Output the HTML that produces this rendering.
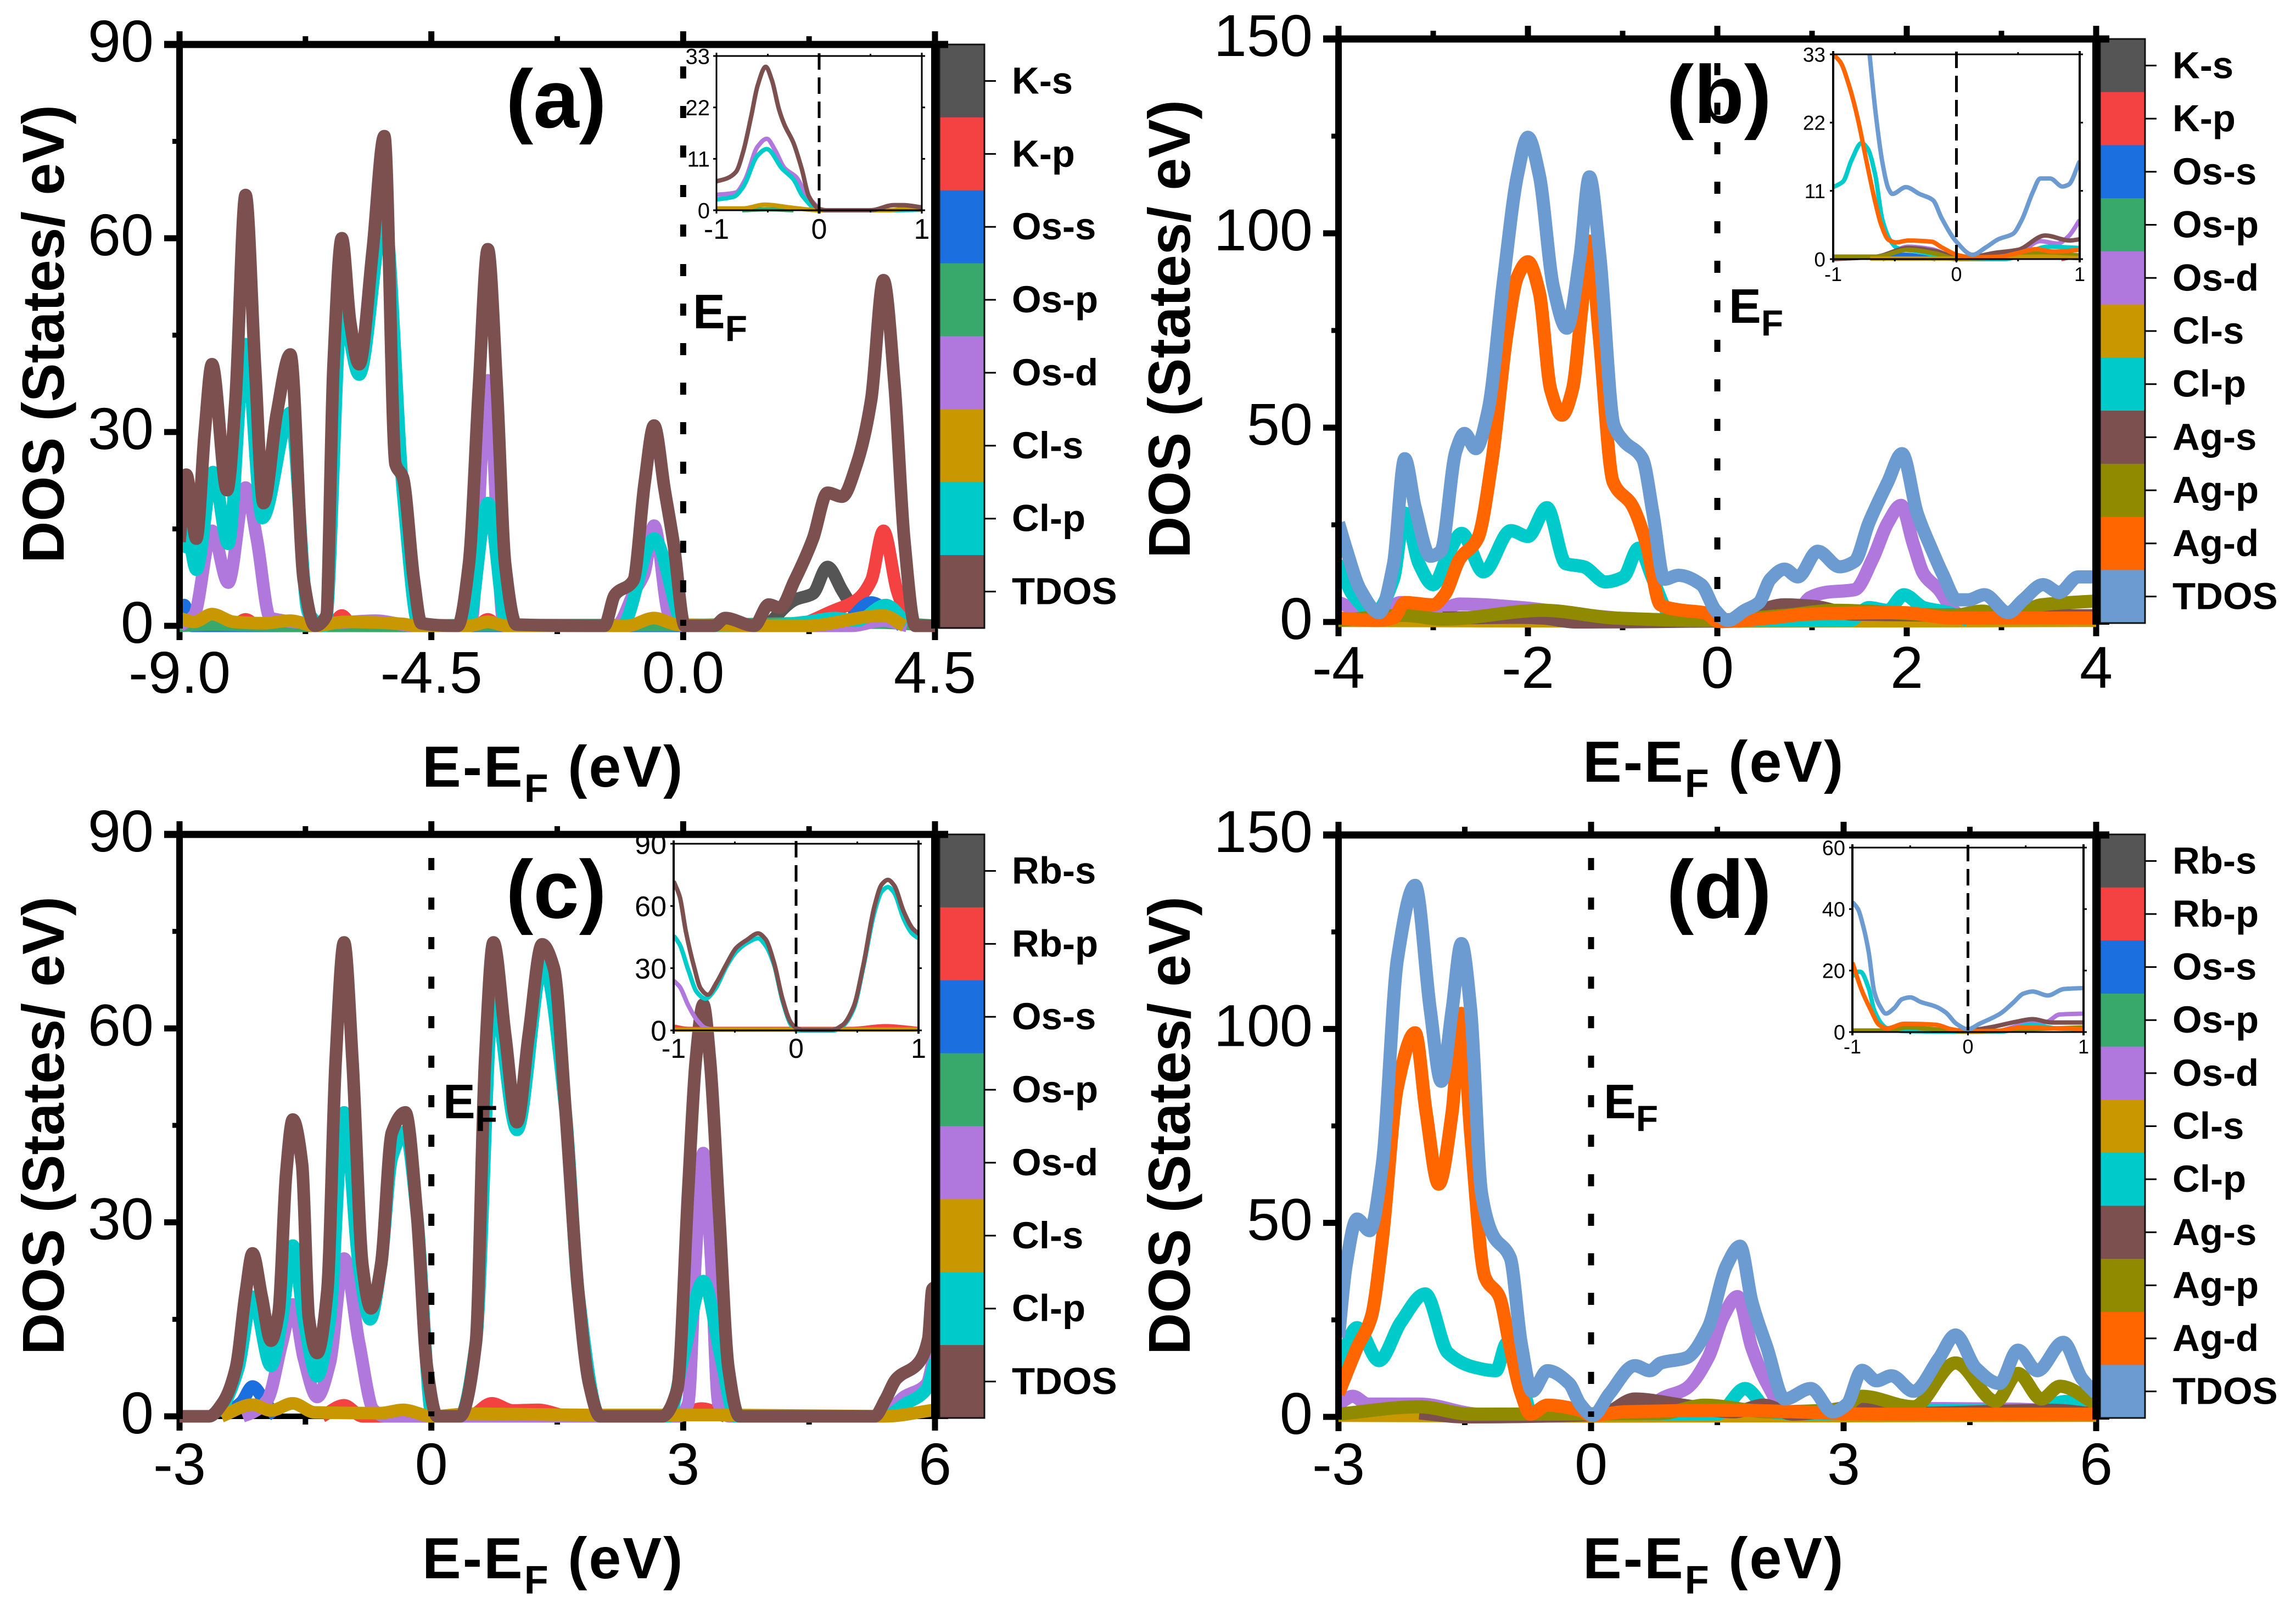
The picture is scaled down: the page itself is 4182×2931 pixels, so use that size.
<!DOCTYPE html>
<html lang="en">
<head>
<meta charset="utf-8">
<title>Density of states panels</title>
<style>
html,body{margin:0;padding:0;background:#fff;}
svg{display:block;}
text{font-family:"Liberation Sans",Arial,sans-serif;fill:#000;}
.ttl{font-weight:bold;}
</style>
</head>
<body>
<svg id="figure" xmlns="http://www.w3.org/2000/svg" width="4182" height="2931" viewBox="0 0 4182 2931">
<rect x="0" y="0" width="4182" height="2931" fill="#fff"/>
<defs id="clips"></defs>
<g id="plots"></g>

<text class="ttl" x="1013" y="232" font-size="150" text-anchor="middle">(a)</text>
<text class="ttl" x="3131" y="224" font-size="150" text-anchor="middle">(b)</text>
<text class="ttl" x="1013" y="1672" font-size="150" text-anchor="middle">(c)</text>
<text class="ttl" x="3131" y="1672" font-size="150" text-anchor="middle">(d)</text>

<text class="ttl" x="1262" y="598" font-size="88">E<tspan dy="23" font-size="66">F</tspan></text>
<text class="ttl" x="3149" y="588" font-size="88">E<tspan dy="23" font-size="66">F</tspan></text>
<text class="ttl" x="807" y="2037" font-size="88">E<tspan dy="23" font-size="66">F</tspan></text>
<text class="ttl" x="2921" y="2037" font-size="88">E<tspan dy="23" font-size="66">F</tspan></text>

<text class="ttl" transform="translate(116,1026) rotate(-90)" font-size="108" textLength="835" lengthAdjust="spacingAndGlyphs">DOS (States/ eV)</text>
<text class="ttl" transform="translate(2167,1017) rotate(-90)" font-size="108" textLength="835" lengthAdjust="spacingAndGlyphs">DOS (States/ eV)</text>
<text class="ttl" transform="translate(116,2468) rotate(-90)" font-size="108" textLength="835" lengthAdjust="spacingAndGlyphs">DOS (States/ eV)</text>
<text class="ttl" transform="translate(2167,2468) rotate(-90)" font-size="108" textLength="835" lengthAdjust="spacingAndGlyphs">DOS (States/ eV)</text>

<text class="ttl" x="769" y="1433" font-size="106" letter-spacing="3">E-E<tspan dy="28" font-size="72">F</tspan><tspan dy="-28"> (eV)</tspan></text>
<text class="ttl" x="2883" y="1424" font-size="106" letter-spacing="3">E-E<tspan dy="28" font-size="72">F</tspan><tspan dy="-28"> (eV)</tspan></text>
<text class="ttl" x="769" y="2875" font-size="106" letter-spacing="3">E-E<tspan dy="28" font-size="72">F</tspan><tspan dy="-28"> (eV)</tspan></text>
<text class="ttl" x="2883" y="2875" font-size="106" letter-spacing="3">E-E<tspan dy="28" font-size="72">F</tspan><tspan dy="-28"> (eV)</tspan></text>
</svg>

<script>
/* ---------- Tick values and labels ---------- */
const aXTicks=[-9,-4.5,0,4.5];
const aXLabels=["-9.0","-4.5","0.0","4.5"];
const aXMinor=[-6.75,-2.25,2.25];
const bXTicks=[-4,-2,0,2,4];
const bXLabels=["-4","-2","0","2","4"];
const bXMinor=[-3,-1,1,3];
const cdXTicks=[-3,0,3,6];
const cdXLabels=["-3","0","3","6"];
const cdXMinor=[-1.5,1.5,4.5];
const acYTicks=[0,30,60,90];
const acYLabels=["0","30","60","90"];
const acYMinor=[15,45,75];
const bdYTicks=[0,50,100,150];
const bdYLabels=["0","50","100","150"];
const bdYMinor=[25,75,125];
const insetXTicks=[-1,0,1];
const insetXLabels=["-1","0","1"];
const insetXMinor=[-0.5,0.5];
const insetABYTicks=[0,11,22,33];
const insetABYLabels=["0","11","22","33"];
const insetCYTicks=[0,30,60,90];
const insetCYLabels=["0","30","60","90"];
const insetDYTicks=[0,20,40,60];
const insetDYLabels=["0","20","40","60"];

/* ---------- Legend categories ---------- */
const legendA=["K-s","K-p","Os-s","Os-p","Os-d","Cl-s","Cl-p","TDOS"];
const legendB=["K-s","K-p","Os-s","Os-p","Os-d","Cl-s","Cl-p","Ag-s","Ag-p","Ag-d","TDOS"];
const legendC=["Rb-s","Rb-p","Os-s","Os-p","Os-d","Cl-s","Cl-p","TDOS"];
const legendD=["Rb-s","Rb-p","Os-s","Os-p","Os-d","Cl-s","Cl-p","Ag-s","Ag-p","Ag-d","TDOS"];
const legendColorsAC=["#555555","#f44242","#1b6fde","#38a96b","#b077dd","#c99700","#00cbcb","#7d5050"];
const legendColorsBD=["#555555","#f44242","#1b6fde","#38a96b","#b077dd","#c99700","#00cbcb","#7d5050","#8f8a00","#ff6600","#6b9bd1"];

/* ---------- Panel (a) ---------- */
const a_ks_e=[1.5,1.99,2.32,2.58,2.84,3.14];
const a_ks_dos=[0,4,5,9.1,5.5,1.2];
const a_kp_e=[-8,-7.82,-7.6,-6.3,-6.1,-5.9,-3.7,-3.49,-3.3,1.9,2.7,3.1,3.36,3.58,3.82,4.06];
const a_kp_dos=[0,1,0,0,1.6,0,0,1,0,0,2.4,4,7,14.7,5.5,0];
const a_oss_e=[-9,-8.92,-8.78,-8.6,2.8,3.36,3.9];
const a_oss_dos=[2.5,3.2,0,0,0,3.6,0];
const a_osp_e=[-9,-8.4,-7.8,-6,-3.5,-0.5,3.5,4.5];
const a_osp_dos=[0,0.2,0.1,0,0.1,0.1,0.5,0];
const a_osd_e=[-9,-8.74,-8.42,-8.13,-7.82,-7.62,-7.38,-6.4,-5.5,-4.8,-3.8,-3.49,-3.2,-1.2,-0.86,-0.7,-0.52,-0.25,0,3,3.58,4];
const a_osd_dos=[0,1.6,14.7,6.7,21.4,13.5,1.2,0.4,0.8,0,0,38,0,0,5.5,8,15.5,1.6,0,0,0.8,0];
const a_clp_e=[-9,-8.88,-8.7,-8.4,-8.13,-7.82,-7.52,-7.02,-6.7,-6.4,-6.1,-5.79,-5.34,-5.0,-4.72,-3.85,-3.49,-3.15,-1.1,-0.52,0.03,1.4,2.2,2.72,3.1,3.62,4.0];
const a_clp_dos=[11.5,15,8.7,23.8,12.7,43.6,16.7,33,2,0,49,38.9,63.5,20,0,0,19,0,0,13.5,0,0,0.6,1.2,0.8,3.2,0.4];
const a_cls_e=[-9,-8.74,-8.42,-8.03,-7.5,-7.02,-6.58,-6.06,-5.01,-4.78,-3.83,-3.49,-3.15,-1.0,-0.52,-0.1,2.2,3.58,3.95];
const a_cls_dos=[1.2,0.6,1.8,0.6,0.4,0.8,0,0.6,0.3,0,0,0.6,0,0,1.2,0.2,0,1.6,0];
const a_tdos_e=[-9,-8.88,-8.7,-8.55,-8.42,-8.15,-8,-7.82,-7.65,-7.5,-7.26,-7.02,-6.78,-6.58,-6.38,-6.25,-6.1,-5.95,-5.79,-5.55,-5.34,-5.14,-5.01,-4.81,-4.68,-4.03,-3.83,-3.65,-3.49,-3.33,-3.18,-2.98,-1.41,-1.22,-0.89,-0.69,-0.52,-0.33,-0.17,0.03,0.55,0.75,1.27,1.53,1.73,1.99,2.32,2.58,2.84,3.1,3.36,3.58,3.78,3.95,4.15,4.5];
const a_tdos_dos=[13,23.4,13.5,30,40.5,21,35,66.7,40,19,33,42,7,0,1.5,40,60,47,40.5,58,75.8,25,23,7,0.4,0,9.5,37,58.3,37,9.5,0.2,0,4.8,7,22,31,21,12.7,0,0,1.2,0,3.3,2.8,7,13.5,20.6,20,25,35,53.5,37,13.5,0,0];

/* ---------- Inset (a) ---------- */
const ai_tdos_e=[-1,-0.9,-0.81,-0.74,-0.66,-0.6,-0.52,-0.46,-0.39,-0.34,-0.25,-0.17,-0.1,0,0.07,0.5,0.73,0.82,1];
const ai_tdos_dos=[6.2,6.8,8.2,12.5,20.3,26.6,30.7,27.8,21.5,18.4,14.4,8.9,3,0.3,0,0,1.1,1.1,0.6];
const ai_osd_e=[-1,-0.81,-0.72,-0.6,-0.51,-0.43,-0.34,-0.22,-0.13,0];
const ai_osd_dos=[3.3,3.8,6.6,13.6,15.3,12.9,9.1,7,3.5,0.3];
const ai_clp_e=[-1,-0.83,-0.74,-0.6,-0.51,-0.36,-0.25,-0.16,0,0.67,1];
const ai_clp_dos=[2.3,2.9,5,11.7,13.1,8.9,6.6,3,0,0,0.1];
const ai_cls_e=[-1,-0.74,-0.53,-0.25,0,0.7,0.85,1];
const ai_cls_dos=[0.4,0.4,1.2,0.5,0,0,0.4,0.2];
const ai_osp_e=[-0.75,-0.5,-0.25];
const ai_osp_dos=[0,0.2,0];

/* ---------- Panel (b) ---------- */
const b_osd_e=[-4,-3.6,-3.34,-2.95,-2.72,-2.07,-1.37,-0.6,0.79,0.98,1.14,1.45,1.64,1.8,1.94,2.07,2.18,2.34,2.49,2.65];
const b_osd_dos=[5,1.7,5,3,4.6,3.7,1.7,0.4,1,6.3,7.6,8.3,16.2,25.5,30,20,12.3,8.3,3,0.4];
const b_cls_e=[-4,0,4];
const b_cls_dos=[0.4,0.2,0.4];
const b_clp_e=[-4,-3.85,-3.62,-3.42,-3.3,-3.15,-3,-2.84,-2.7,-2.47,-2.18,-2,-1.8,-1.6,-1.41,-1.18,-0.99,-0.83,-0.68,-0.52,-0.37,1.4,1.6,1.8,1.97,2.18,2.45,2.65];
const b_clp_dos=[15.6,7,2.4,11,28,15,9.6,17.5,22.8,12.9,23.5,22,29.4,15,14.2,10.3,11.6,19,11,2.4,0.4,0.4,3.7,3,7,3.7,2.4,0.4];
const b_ags_e=[-2.9,-2.1,-1.84,-1.5,0.11,0.71,1.02,1.45,4];
const b_ags_dos=[1,1.2,1,0,0.4,4.4,4,2,1.6];
const b_agp_e=[-4,-3.3,-2.9,-1.84,-1.07,-0.14,0.71,1.25,2.49,2.8,3.07,3.42,4];
const b_agp_dos=[0.4,1.7,0.7,3,1,0.4,1.7,3,1.7,2.8,1,4.4,5.4];
const b_agd_e=[-4,-3.6,-3.42,-3.3,-3,-2.88,-2.72,-2.53,-2.38,-2.22,-2.11,-2,-1.88,-1.76,-1.64,-1.53,-1.43,-1.35,-1.25,-1.1,-0.9,-0.75,-0.6,-0.37,-0.14,0.02,0.56,0.95,1.95,2.49,4];
const b_agd_dos=[1,0.4,1,5,4.4,7,16.2,21.5,41.3,74.3,88.8,92.7,84.8,59.8,53.2,59.8,80.9,98,74.3,36,30,20.2,4.4,3,2.4,0.1,1,2,2.4,1,1];
const b_tdos_e=[-4,-3.92,-3.77,-3.57,-3.42,-3.3,-3.19,-3.03,-2.92,-2.76,-2.67,-2.55,-2.42,-2.26,-2.11,-2,-1.88,-1.73,-1.59,-1.45,-1.35,-1.24,-1.09,-0.99,-0.79,-0.68,-0.56,-0.41,-0.17,-0.02,0.11,0.29,0.44,0.56,0.71,0.85,1.06,1.29,1.45,1.6,1.8,1.95,2.11,2.26,2.38,2.53,2.65,2.82,3.07,3.23,3.44,3.61,3.81,4];
const b_tdos_dos=[25.5,18.9,8.3,2.4,14.9,42,29.4,16.9,18.2,44,48.5,44.6,54.5,87.5,115,124.7,115,86,75.6,94,114.5,94,50.5,46.6,42,28,11,12,9.6,3,0.4,3,5,11,13.6,11.6,18.2,14.2,15.6,25.5,36,43.3,28,18.9,12.3,5.7,5.7,7,2.4,5.7,9.6,7.6,11.6,11.6];

/* ---------- Inset (b) ---------- */
const bi_kp_e=[0.85,1];
const bi_kp_dos=[0,0.6];
const bi_oss_e=[-0.6,-0.42,-0.17];
const bi_oss_dos=[0,0.7,0];
const bi_osd_e=[-0.6,-0.39,-0.2,0,0.48,0.68,0.82,0.91,1];
const bi_osd_dos=[0.2,2,1.6,0.3,0.7,2.9,2.5,3.7,6.3];
const bi_cls_e=[-0.7,0,0.7,1];
const bi_cls_dos=[0.1,0.1,0.4,0.15];
const bi_clp_e=[-1,-0.92,-0.85,-0.77,-0.72,-0.66,-0.6,-0.53,-0.48,-0.3,-0.17,0,0.39,0.56,0.74,1];
const bi_clp_dos=[11.6,12.5,16,18.7,17.8,13.7,6.3,2.8,1.8,1.2,0.6,0,0,0.9,2,1.8];
const bi_ags_e=[-1,-0.65,-0.39,-0.17,0,0.14,0.31,0.5,0.72,0.92,1];
const bi_ags_dos=[0,0.4,1.8,1.3,0.3,0.4,1,1.5,3.8,3,3.2];
const bi_agp_e=[-1,-0.65,-0.39,-0.17,0,0.31,0.7,1];
const bi_agp_dos=[0.4,0.4,1.5,0.9,0.1,0.2,1,0.6];
const bi_agd_e=[-1,-0.94,-0.87,-0.8,-0.73,-0.66,-0.61,-0.55,-0.49,-0.39,-0.2,-0.12,0.02,0.12,0.36,0.48,0.65,0.79,1];
const bi_agd_dos=[33,31.7,27.9,22.6,15.8,9.3,5.5,3.1,2.7,3,2.8,1.9,0.6,0.3,0.4,0.9,1.6,1.2,1.5];
const bi_tdos_e=[-0.72,-0.65,-0.6,-0.55,-0.52,-0.41,-0.3,-0.19,-0.12,0,0.13,0.24,0.34,0.46,0.53,0.62,0.68,0.76,0.86,0.91,1];
const bi_tdos_dos=[36,22.6,15.5,11.3,10.5,11.6,10.5,9.5,6.6,2.8,0.7,1.9,3.2,4.1,6.3,10.8,13,13,11.7,12,15.8];

/* ---------- Panel (c) ---------- */
const c_oss_e=[-2.5,-2.26,-2.13,-1.98,-1.85];
const c_oss_dos=[0,2.2,4.6,2.2,0];
const c_rbp_e=[-1.3,-1.04,-0.82,0.45,0.72,0.97,1.27,1.66,2.9,3.22,3.5];
const c_rbp_dos=[0,1.7,0,0,2,0.9,1,0,0,1.2,0];
const c_osd_e=[-2.25,-2.13,-1.95,-1.78,-1.65,-1.52,-1.36,-1.21,-1.04,-0.86,-0.69,-0.55,2.95,3.06,3.15,3.24,3.33,3.42,3.55,5.35,5.63,5.9,6];
const c_osd_dos=[0,0.6,2.6,11.3,17.3,9,3,8.2,24.4,11.3,1,0,0,2,25,40.7,25,2,0,0,3,5,10];
const c_clp_e=[-2.52,-2.3,-2.13,-1.91,-1.78,-1.65,-1.52,-1.36,-1.21,-1.04,-0.86,-0.73,-0.6,-0.47,-0.31,-0.17,0.01,0.34,0.53,0.74,1.02,1.33,1.6,1.75,2.01,2.83,3,3.24,3.45,3.62,5.4,5.63,5.9,6];
const c_clp_dos=[0,7.4,18.5,7.8,15,26.4,15,6.2,15,47,23,15,23.3,40,44,31,0,0,11.3,65.3,44.3,70,47,19.3,0,0,9,20.9,9,0,0,1.8,4.2,8.6];
const c_cls_e=[-2.5,-2.13,-1.91,-1.65,-1.39,-0.6,-0.34,0.01,0.45,2.01,3.6,5.4,6];
const c_cls_dos=[0,1.8,0.9,2,0.6,0.5,1,0,0.4,0.2,0.2,0,1];
const c_tdos_e=[-3,-2.65,-2.48,-2.33,-2.21,-2.13,-2.02,-1.91,-1.82,-1.73,-1.65,-1.54,-1.46,-1.36,-1.24,-1.14,-1.04,-0.94,-0.82,-0.72,-0.6,-0.47,-0.31,-0.17,-0.05,0.07,0.34,0.53,0.64,0.74,0.88,1.02,1.16,1.32,1.46,1.6,1.75,1.88,2.01,2.75,2.93,3.06,3.15,3.24,3.32,3.43,3.54,3.67,5.28,5.41,5.54,5.8,5.92,5.97,6];
const c_tdos_dos=[0,0,2.2,7.4,19.3,25.2,18.5,11.7,16,37.5,45.9,39,15.3,9.8,19.3,55,73.3,55,23.3,16.7,23.3,43.9,47,31,7.4,0,0,11.3,55,73.3,59,45.5,59,73,69.3,47,19.3,5,0,0,4.2,35,55,63.7,55,31,7.4,0,0,2.6,5.8,8.2,12,19.7,20];

/* ---------- Inset (c) ---------- */
const ci_rbp_e=[-1,-0.88,-0.25,0.45,0.73,1];
const ci_rbp_dos=[1.8,0.7,0.7,0.7,2,0.7];
const ci_osd_e=[-1,-0.95,-0.88,-0.81,-0.74,-0.66,0.8,1];
const ci_osd_dos=[24,21,12,5,1.2,0.3,0.5,0.5];
const ci_cls_e=[-1,1];
const ci_cls_dos=[0.4,0.4];
const ci_clp_e=[-1,-0.95,-0.88,-0.81,-0.74,-0.66,-0.57,-0.49,-0.4,-0.31,-0.25,-0.18,-0.11,-0.04,0,0.31,0.38,0.47,0.55,0.64,0.7,0.75,0.8,0.88,0.95,1];
const ci_clp_dos=[45.7,41.3,29,18.4,15.3,20,30.7,37.8,42.2,44.4,41,31.6,14,2.5,0,0,2,10.4,30.7,57,67,69.1,66.5,53.7,46.6,44.4];
const ci_tdos_e=[-1,-0.95,-0.9,-0.83,-0.78,-0.72,-0.65,-0.57,-0.49,-0.4,-0.31,-0.25,-0.18,-0.11,-0.04,0.01,0.05,0.29,0.38,0.47,0.55,0.64,0.7,0.75,0.8,0.88,0.95,1];
const ci_tdos_dos=[71.9,64.4,47.6,30,20.3,17.2,23,31.8,39.7,43.7,46.8,44,32.6,15,3.5,0.9,0.2,0.2,2.6,11.5,31.8,59.8,70.4,72.6,70,57.2,49.3,46.6];

/* ---------- Panel (d) ---------- */
const d_osd_e=[-3,-2.83,-2.65,-2.04,-1.35,-0.9,0.65,0.83,1.13,1.39,1.57,1.74,1.91,2.09,2.35,3.8,5,6];
const d_osd_dos=[3.3,5.3,3.3,3.3,0.7,0.4,0.6,4.6,7.3,15.2,25.8,31,17.8,8.6,0.7,2.2,2,1];
const d_cls_e=[-3,0,6];
const d_cls_dos=[0.4,0.2,0.4];
const d_clp_e=[-3,-2.78,-2.52,-2.26,-1.97,-1.7,-1.39,-1.13,-1,-0.83,-0.7,1.5,1.83,2.13,2.56,4.3,5.2,5.65,6];
const d_clp_dos=[12.5,23,14.5,24.4,31.7,16.5,12.8,11.9,19,9.5,0.7,0.7,7.3,1.3,0.7,1.7,1.3,4,1.3];
const d_ags_e=[-2.04,-1.5,0.13,0.52,1.09,1.7,2.05,2.4,3.22,3.6,5.48,6];
const d_ags_dos=[1,0,0.7,4.6,3,1.3,3,0.7,2.6,0.8,1.7,0.7];
const d_agp_e=[-3,-2.04,-1.43,0.83,1.35,2.13,2.96,3.22,3.83,4.33,4.81,5.07,5.35,5.57,6];
const d_agp_dos=[0.7,2.6,0.7,0.9,3,1.3,2,5.3,2.6,13.9,4,11.2,4.6,7.9,3.3];
const d_agd_e=[-3,-2.78,-2.61,-2.48,-2.3,-2.09,-1.96,-1.81,-1.65,-1.54,-1.43,-1.26,-1.09,-0.96,-0.83,-0.72,-0.52,-0.13,0,0.4,1.7,3.4,6];
const d_agd_dos=[6,17.8,25.8,45.6,85,99,78.6,60,78.6,104,73,36,31,17.8,6,0.7,3,1.7,0.4,1.3,1.7,0.7,0.7];
const d_tdos_e=[-3,-2.91,-2.78,-2.63,-2.48,-2.3,-2.09,-1.91,-1.78,-1.65,-1.54,-1.43,-1.3,-1.17,-0.96,-0.83,-0.7,-0.52,-0.26,-0.13,0.02,0.22,0.52,0.7,0.83,1.13,1.39,1.61,1.77,1.91,2.09,2.3,2.61,2.87,3.04,3.22,3.39,3.57,3.83,4.13,4.33,4.57,4.85,5.07,5.3,5.61,5.83,6];
const d_tdos_dos=[20.5,39,51,48,65,118,137,105,86.5,105,122,105,57.5,47,41,19,6.6,11.9,8.6,3.3,0.4,6,13.2,11.9,13.9,15.2,23,39,44,29.7,17.8,4.6,7.3,1.3,3.3,12,9.3,10.6,6.6,15,21.1,12.6,8.6,17.2,11.9,19.2,9.9,6];

/* ---------- Inset (d) ---------- */
const di_osd_e=[0.3,0.55,0.68,0.79,1];
const di_osd_dos=[0.6,3,3.3,5.7,6];
const di_clp_e=[-1,-0.98,-0.93,-0.86,-0.81,-0.74,-0.7,-0.55,0,0.3,0.55,0.78,1];
const di_clp_dos=[17.9,19.6,19.6,14.3,7,2.4,1.2,0.3,0.1,0.2,2.4,1.1,0.9];
const di_ags_e=[0,0.23,0.41,0.56,0.72,1];
const di_ags_dos=[0.3,1.8,3.3,4.2,3.1,3.1];
const di_agp_e=[-1,-0.71,-0.52,-0.28,0,0.5,1];
const di_agp_dos=[0.5,0.5,1.5,0.9,0.1,0.9,1.5];
const di_agd_e=[-1,-0.92,-0.84,-0.77,-0.7,-0.55,-0.28,-0.14,0,0.23,0.46,1];
const di_agd_dos=[22.6,13.7,7.1,2.4,1.2,2.7,2.4,0.9,0.3,0.3,1.5,0.9];
const di_tdos_e=[-1,-0.95,-0.91,-0.86,-0.81,-0.76,-0.71,-0.64,-0.57,-0.5,-0.41,-0.28,-0.19,-0.1,0,0.1,0.28,0.39,0.48,0.56,0.69,0.83,1];
const di_tdos_dos=[42.3,39.9,35,26.2,13,8.3,6,7.7,10.7,11.3,9.8,8.3,6.3,2.7,0.9,2.7,6,9.5,12.5,13.2,11.9,14,14.3];

/* ---------- Drawing ---------- */
const NS='http://www.w3.org/2000/svg';
const C={ks:'#555555',kp:'#f44242',oss:'#1b6fde',osp:'#38a96b',osd:'#b077dd',cls:'#c99700',clp:'#00cbcb',ags:'#7d5050',agp:'#8f8a00',agd:'#ff6600',tb:'#7d5050',tl:'#6b9bd1'};

function mono(xs,ys){
  const n=xs.length;
  if(n<2) return '';
  const d=[],m=new Array(n).fill(0);
  for(let i=0;i<n-1;i++) d.push((ys[i+1]-ys[i])/((xs[i+1]-xs[i])||1));
  m[0]=d[0];m[n-1]=d[n-2];
  for(let i=1;i<n-1;i++){
    if(d[i-1]*d[i]<=0) m[i]=0;
    else{const h0=xs[i]-xs[i-1],h1=xs[i+1]-xs[i],w1=2*h1+h0,w2=h1+2*h0;m[i]=(w1+w2)/(w1/d[i-1]+w2/d[i]);}
  }
  let p='M'+xs[0].toFixed(1)+' '+ys[0].toFixed(1);
  for(let i=0;i<n-1;i++){
    const h=(xs[i+1]-xs[i])/3;
    p+='C'+(xs[i]+h).toFixed(1)+' '+(ys[i]+m[i]*h).toFixed(1)+' '+(xs[i+1]-h).toFixed(1)+' '+(ys[i+1]-m[i+1]*h).toFixed(1)+' '+xs[i+1].toFixed(1)+' '+ys[i+1].toFixed(1);
  }
  return p;
}
function xAxis(f){return e=>f.left+(e-f.xMin)/(f.xMax-f.xMin)*(f.right-f.left);}
function yAxis(f){return v=>f.bottom-(v-f.yMin)/(f.yMax-f.yMin)*(f.bottom-f.top);}

function tickLine(parent,x1,y1,x2,y2,w,name){
  const el=document.createElementNS(NS,'line');
  
  
  el.setAttribute('x1',x1);el.setAttribute('y1',y1);el.setAttribute('x2',x2);el.setAttribute('y2',y2);
  el.setAttribute('stroke','#000');el.setAttribute('stroke-width',w);
  parent.appendChild(el);
}
function label(parent,x,y,txt,size,anchor,weight,name){
  const el=document.createElementNS(NS,'text');
  
  
  el.setAttribute('x',x);el.setAttribute('y',y);
  el.setAttribute('font-size',size);el.setAttribute('text-anchor',anchor);
  if(weight) el.setAttribute('font-weight',weight);
  el.textContent=txt;
  parent.appendChild(el);
}
function drawSeries(parent,list,X,Y,w,clipId){
  const g=document.createElementNS(NS,'g');
  
  
  g.setAttribute('clip-path','url(#'+clipId+')');
  list.forEach(s=>{
    const el=document.createElementNS(NS,'path');
    
    
    el.setAttribute('d',mono(s[2].map(X),s[3].map(Y)));
    el.setAttribute('fill','none');
    el.setAttribute('stroke',s[1]);
    el.setAttribute('stroke-width',w);
    el.setAttribute('stroke-linejoin','round');
    el.setAttribute('stroke-linecap','butt');
    g.appendChild(el);
  });
  parent.appendChild(g);
}
function addClip(id,x,y,w,h){
  const cp=document.createElementNS(NS,'clipPath');
  cp.setAttribute('id',id);
  const r=document.createElementNS(NS,'rect');
  r.setAttribute('x',x);r.setAttribute('y',y);r.setAttribute('width',w);r.setAttribute('height',h);
  cp.appendChild(r);
  document.getElementById('clips').appendChild(cp);
}

function drawPanel(P){
  const f=P.frame,X=xAxis(f),Y=yAxis(f);
  const g=document.createElementNS(NS,'g');
  
  
  document.getElementById('plots').appendChild(g);
  addClip('clip-'+P.id,f.left,f.top-40,f.right-f.left,f.bottom-f.top+60);

  /* ticks */
  P.xTicks.forEach((t,i)=>{
    tickLine(g,X(t),f.bottom,X(t),f.bottom+26,11,'x-tick-major');
    tickLine(g,X(t),f.top,X(t),f.top-24,11,'x-tick-top-major');
    label(g,X(t),P.xLabelY,P.xLabels[i],108,'middle','', 'x-tick-label');
  });
  P.xMinor.forEach(t=>{
    tickLine(g,X(t),f.bottom,X(t),f.bottom+15,10,'x-tick-minor');
    tickLine(g,X(t),f.top,X(t),f.top-15,10,'x-tick-top-minor');
  });
  P.yTicks.forEach((t,i)=>{
    tickLine(g,f.left,Y(t),f.left-28,Y(t),11,'y-tick-major');
    label(g,f.left-47,Y(t)+31,P.yLabels[i],108,'end','', 'y-tick-label');
  });
  P.yMinor.forEach(t=>{
    tickLine(g,f.left,Y(t),f.left-13,Y(t),9,'y-tick-minor');
  });

  /* bottom axis under curves */
  tickLine(g,f.left-28,f.bottom,f.right+24,f.bottom,10,'x-axis-bottom');

  /* curves */
  drawSeries(g,P.series,X,Y,P.lineWidth,'clip-'+P.id);

  /* legend */
  const lg=document.createElementNS(NS,'g');
  
  
  g.appendChild(lg);
  const n=P.legend.length,bh=(P.lg.bottom-P.lg.top)/n;
  P.legend.forEach((name,i)=>{
    const r=document.createElementNS(NS,'rect');
    
    
    r.setAttribute('x',P.lg.left);r.setAttribute('y',P.lg.top+i*bh);
    r.setAttribute('width',P.lg.right-P.lg.left);r.setAttribute('height',bh+0.5);
    r.setAttribute('fill',P.legendColors[i]);
    lg.appendChild(r);
    const cy=P.lg.top+(i+0.5)*bh;
    tickLine(lg,P.lg.right,cy,P.lg.right+21,cy,3,'legend-tick');
    label(lg,P.lg.right+50,cy+23,name,P.legendFont,'start','bold','legend-entry');
  });
  const b=document.createElementNS(NS,'rect');
  
  
  b.setAttribute('x',P.lg.left);b.setAttribute('y',P.lg.top);
  b.setAttribute('width',P.lg.right-P.lg.left);b.setAttribute('height',P.lg.bottom-P.lg.top);
  b.setAttribute('fill','none');b.setAttribute('stroke','#111');b.setAttribute('stroke-width',3);
  lg.appendChild(b);

  /* frame axes */
  tickLine(g,f.left,f.top-5,f.left,f.bottom+5,12,'y-axis-left');
  tickLine(g,f.right,f.top-5,f.right,f.bottom+5,14,'y-axis-right');
  tickLine(g,f.left-28,f.top,f.right+24,f.top,13,'x-axis-top');

  /* Fermi dashed */
  const fx=document.createElementNS(NS,'line');
  
  
  fx.setAttribute('x1',X(0));fx.setAttribute('x2',X(0));
  fx.setAttribute('y1',P.dashStart);fx.setAttribute('y2',f.bottom);
  fx.setAttribute('stroke','#000');fx.setAttribute('stroke-width',11);
  fx.setAttribute('stroke-dasharray','22 50');
  g.appendChild(fx);

  /* inset */
  const I=P.inset,IX=xAxis(I.frame),IY=yAxis(I.frame),F=I.frame;
  const ig=document.createElementNS(NS,'g');
  
  
  g.appendChild(ig);
  addClip('clip-in-'+P.id,F.left,F.top,F.right-F.left,F.bottom-F.top+6);
  drawSeries(ig,I.series,IX,IY,8,'clip-in-'+P.id);
  tickLine(ig,F.left,F.top-6,F.left,F.bottom+6,I.sideW,'inset-y-axis-left');
  tickLine(ig,F.right,F.top-6,F.right,F.bottom+6,I.sideW,'inset-y-axis-right');
  tickLine(ig,F.left-6,F.top,F.right+6,F.top,3,'inset-x-axis-top');
  tickLine(ig,F.left-6,F.bottom,F.right+6,F.bottom,3,'inset-x-axis-bottom');
  insetXTicks.forEach((t,i)=>{
    tickLine(ig,IX(t),F.bottom,IX(t),F.bottom+6,3,'inset-x-tick');
    label(ig,IX(t),I.xLabelY,insetXLabels[i],I.xFont,'middle','','inset-x-tick-label');
  });
  insetXMinor.forEach(t=>{
    tickLine(ig,IX(t),F.bottom,IX(t),F.bottom+4,3,'inset-x-tick-minor');
    tickLine(ig,IX(t),F.top,IX(t),F.top-4,3,'inset-x-tick-minor-top');
  });
  I.yTicks.forEach((t,i)=>{
    tickLine(ig,F.left,IY(t),F.left-6,IY(t),3,'inset-y-tick');
    tickLine(ig,F.right,IY(t),F.right+6,IY(t),3,'inset-y-tick-right');
    label(ig,F.left-I.labelGap,IY(t)+I.yFont*0.36,I.yLabels[i],I.yFont,'end','','inset-y-tick-label');
  });
  const dz=document.createElementNS(NS,'line');
  
  
  dz.setAttribute('x1',IX(0));dz.setAttribute('x2',IX(0));
  dz.setAttribute('y1',F.top-5);dz.setAttribute('y2',F.bottom+6);
  dz.setAttribute('stroke','#000');dz.setAttribute('stroke-width',5);
  dz.setAttribute('stroke-dasharray','30 14');
  ig.appendChild(dz);
}

drawPanel({
  id:'a',frame:{left:327,right:1703,top:81,bottom:1140,xMin:-9,xMax:4.5,yMin:0,yMax:90},
  xTicks:aXTicks,xLabels:aXLabels,xMinor:aXMinor,yTicks:acYTicks,yLabels:acYLabels,yMinor:acYMinor,xLabelY:1262,
  lineWidth:23,dashStart:121,legend:legendA,legendColors:legendColorsAC,legendFont:69,
  lg:{left:1711,right:1793,top:81,bottom:1144},
  series:[['k-s',C.ks,a_ks_e,a_ks_dos],['k-p',C.kp,a_kp_e,a_kp_dos],['os-s',C.oss,a_oss_e,a_oss_dos],['os-p',C.osp,a_osp_e,a_osp_dos],['os-d',C.osd,a_osd_e,a_osd_dos],['cl-p',C.clp,a_clp_e,a_clp_dos],['cl-s',C.cls,a_cls_e,a_cls_dos],['tdos',C.tb,a_tdos_e,a_tdos_dos]],
  inset:{frame:{left:1305,right:1679,top:102,bottom:383,xMin:-1,xMax:1,yMin:0,yMax:33},yTicks:insetABYTicks,yLabels:insetABYLabels,xLabelY:435,xFont:52,yFont:40,labelGap:12,sideW:3,
    series:[['os-p',C.osp,ai_osp_e,ai_osp_dos],['os-d',C.osd,ai_osd_e,ai_osd_dos],['cl-p',C.clp,ai_clp_e,ai_clp_dos],['cl-s',C.cls,ai_cls_e,ai_cls_dos],['tdos',C.tb,ai_tdos_e,ai_tdos_dos]]}
});
drawPanel({
  id:'b',frame:{left:2438,right:3818,top:71,bottom:1133,xMin:-4,xMax:4,yMin:0,yMax:150},
  xTicks:bXTicks,xLabels:bXLabels,xMinor:bXMinor,yTicks:bdYTicks,yLabels:bdYLabels,yMinor:bdYMinor,xLabelY:1253,
  lineWidth:24,dashStart:115,legend:legendB,legendColors:legendColorsBD,legendFont:69,
  lg:{left:3825,right:3907,top:71,bottom:1135},
  series:[['os-d',C.osd,b_osd_e,b_osd_dos],['cl-s',C.cls,b_cls_e,b_cls_dos],['cl-p',C.clp,b_clp_e,b_clp_dos],['ag-s',C.ags,b_ags_e,b_ags_dos],['ag-p',C.agp,b_agp_e,b_agp_dos],['ag-d',C.agd,b_agd_e,b_agd_dos],['tdos',C.tl,b_tdos_e,b_tdos_dos]],
  inset:{frame:{left:3339,right:3788,top:99,bottom:472,xMin:-1,xMax:1,yMin:0,yMax:33},yTicks:insetABYTicks,yLabels:insetABYLabels,xLabelY:512,xFont:36,yFont:37,labelGap:14,sideW:4,
    series:[['k-p',C.kp,bi_kp_e,bi_kp_dos],['os-s',C.oss,bi_oss_e,bi_oss_dos],['os-d',C.osd,bi_osd_e,bi_osd_dos],['cl-p',C.clp,bi_clp_e,bi_clp_dos],['ag-s',C.ags,bi_ags_e,bi_ags_dos],['ag-p',C.agp,bi_agp_e,bi_agp_dos],['cl-s',C.cls,bi_cls_e,bi_cls_dos],['ag-d',C.agd,bi_agd_e,bi_agd_dos],['tdos',C.tl,bi_tdos_e,bi_tdos_dos]]}
});
drawPanel({
  id:'c',frame:{left:327,right:1703,top:1520,bottom:2580,xMin:-3,xMax:6,yMin:0,yMax:90},
  xTicks:cdXTicks,xLabels:cdXLabels,xMinor:cdXMinor,yTicks:acYTicks,yLabels:acYLabels,yMinor:acYMinor,xLabelY:2704,
  lineWidth:23,dashStart:1563,legend:legendC,legendColors:legendColorsAC,legendFont:69,
  lg:{left:1711,right:1793,top:1520,bottom:2583},
  series:[['os-s',C.oss,c_oss_e,c_oss_dos],['rb-p',C.kp,c_rbp_e,c_rbp_dos],['os-d',C.osd,c_osd_e,c_osd_dos],['cl-p',C.clp,c_clp_e,c_clp_dos],['cl-s',C.cls,c_cls_e,c_cls_dos],['tdos',C.tb,c_tdos_e,c_tdos_dos]],
  inset:{frame:{left:1227,right:1673,top:1537,bottom:1877,xMin:-1,xMax:1,yMin:0,yMax:90},yTicks:insetCYTicks,yLabels:insetCYLabels,xLabelY:1927,xFont:50,yFont:52,labelGap:13,sideW:4,
    series:[['rb-p',C.kp,ci_rbp_e,ci_rbp_dos],['os-d',C.osd,ci_osd_e,ci_osd_dos],['cl-p',C.clp,ci_clp_e,ci_clp_dos],['cl-s',C.cls,ci_cls_e,ci_cls_dos],['tdos',C.tb,ci_tdos_e,ci_tdos_dos]]}
});
drawPanel({
  id:'d',frame:{left:2438,right:3818,top:1521,bottom:2581,xMin:-3,xMax:6,yMin:0,yMax:150},
  xTicks:cdXTicks,xLabels:cdXLabels,xMinor:cdXMinor,yTicks:bdYTicks,yLabels:bdYLabels,yMinor:bdYMinor,xLabelY:2704,
  lineWidth:24,dashStart:1563,legend:legendD,legendColors:legendColorsBD,legendFont:69,
  lg:{left:3825,right:3907,top:1520,bottom:2583},
  series:[['os-d',C.osd,d_osd_e,d_osd_dos],['cl-s',C.cls,d_cls_e,d_cls_dos],['cl-p',C.clp,d_clp_e,d_clp_dos],['ag-s',C.ags,d_ags_e,d_ags_dos],['ag-p',C.agp,d_agp_e,d_agp_dos],['ag-d',C.agd,d_agd_e,d_agd_dos],['tdos',C.tl,d_tdos_e,d_tdos_dos]],
  inset:{frame:{left:3374,right:3795,top:1544,bottom:1880,xMin:-1,xMax:1,yMin:0,yMax:60},yTicks:insetDYTicks,yLabels:insetDYLabels,xLabelY:1919,xFont:36,yFont:38,labelGap:13,sideW:4,
    series:[['os-d',C.osd,di_osd_e,di_osd_dos],['cl-p',C.clp,di_clp_e,di_clp_dos],['ag-s',C.ags,di_ags_e,di_ags_dos],['ag-p',C.agp,di_agp_e,di_agp_dos],['ag-d',C.agd,di_agd_e,di_agd_dos],['tdos',C.tl,di_tdos_e,di_tdos_dos]]}
});
</script>
</body>
</html>
